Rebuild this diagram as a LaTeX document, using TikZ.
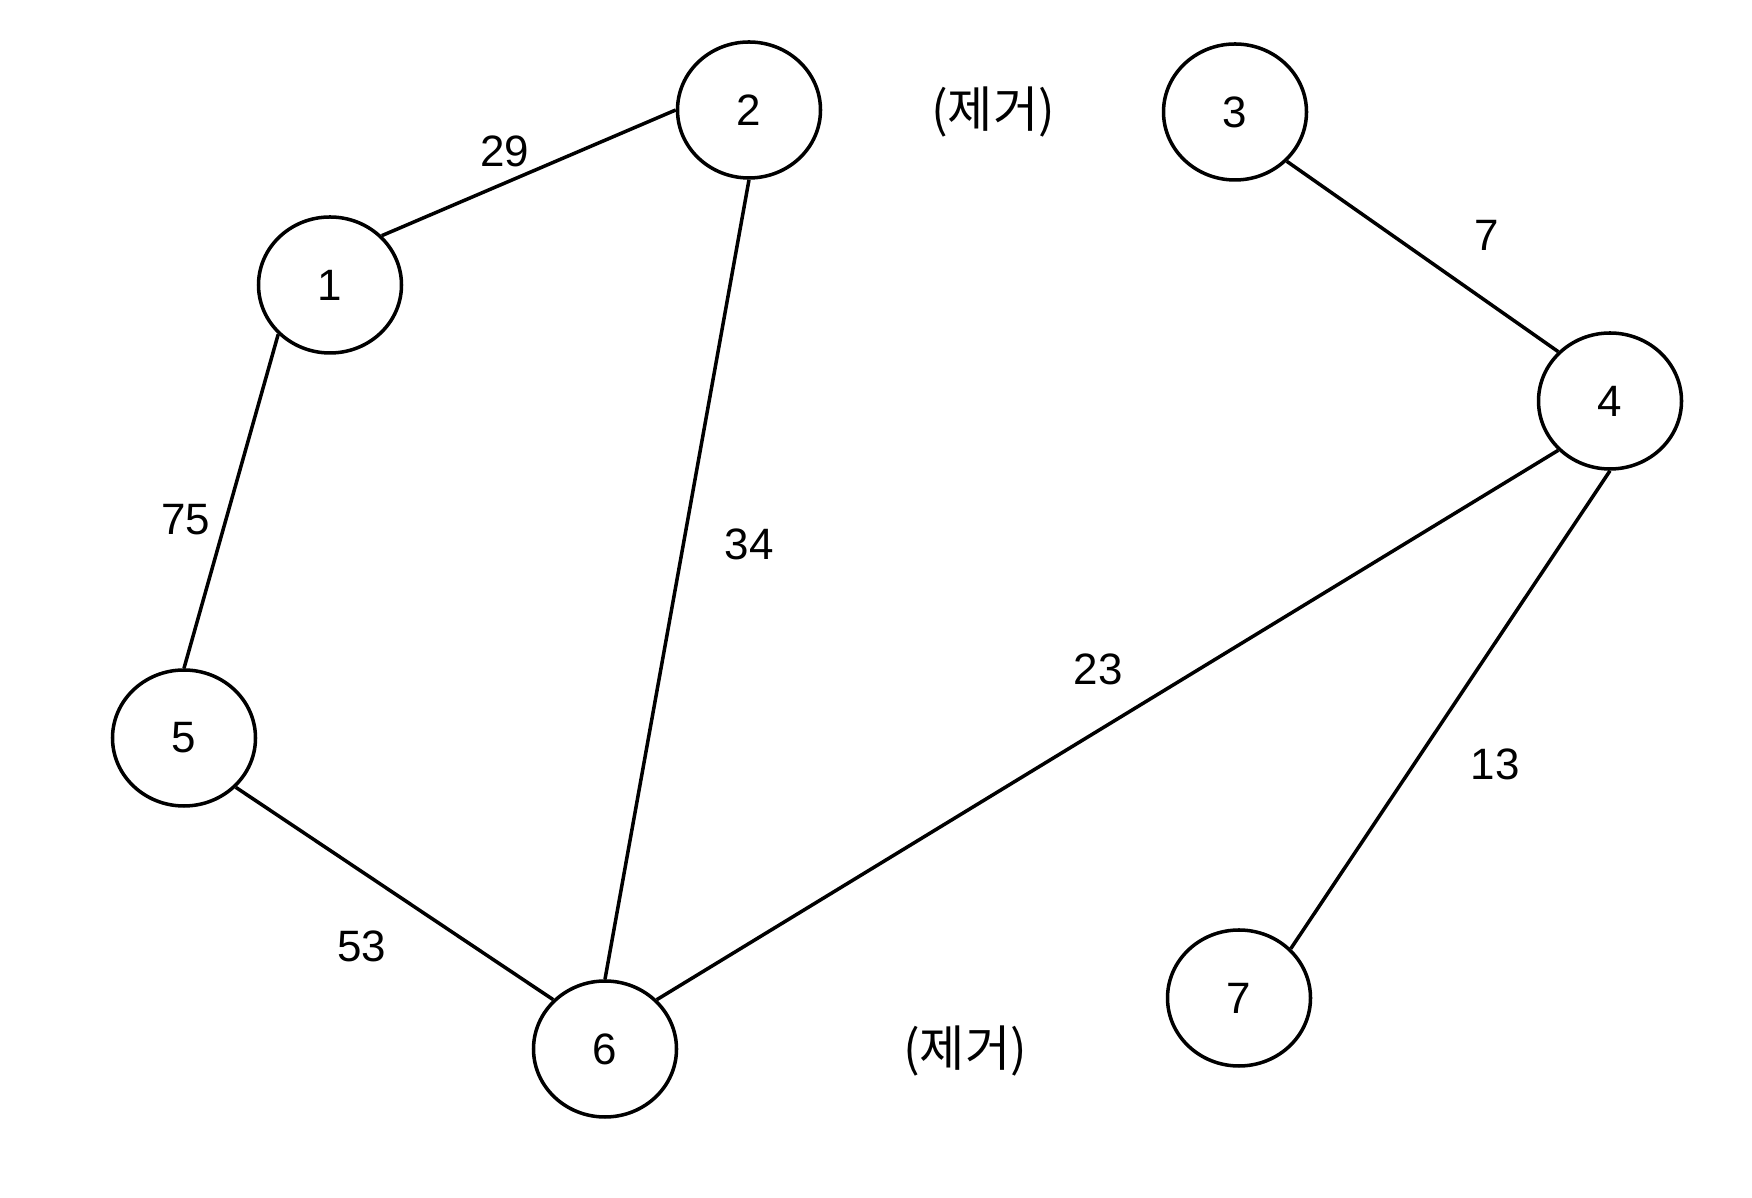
\documentclass[tikz,border=0pt]{standalone}
\usepackage{fontspec}
\setmainfont{Liberation Sans}
\newfontfamily\kr{Noto Sans CJK KR}
\usetikzlibrary{shapes.geometric}

\begin{document}
\begin{tikzpicture}[
    vertex/.style={draw, ellipse, line width=1pt, minimum width=1.43cm, minimum height=1.36cm, inner sep=0pt, font=\fontsize{12.5}{14}\selectfont},
    weight/.style={font=\fontsize{12.5}{14}\selectfont},
    removed/.style={font=\kr\fontsize{14}{16}\selectfont}
]
            \useasboundingbox (0,0) rectangle (17.52,11.98);
            \foreach \n\x\y in {1/3.30/9.13, 2/7.49/10.88, 3/12.35/10.86, 4/16.10/7.97, 5/1.84/4.60, 6/6.05/1.49, 7/12.39/2.00} {
                \node[vertex] (v\n) at (\x,\y) {\n};
            }
            
            \draw[line width=1pt] (v1.north east)--(v2.west) (v1.south west)--(v5.north);
            \draw[line width=1pt] (v2.south)--(v6.north);
            \draw[line width=1pt] (v3.south east)--(v4.north west);
            \draw[line width=1pt] (v4.south west)--(v6.north east) (v4.south)--(v7.north east);
            \draw[line width=1pt] (v5.south east)--(v6.north west);
            
            \foreach \w\x\y in {29/5.05/10.47, 7/14.87/9.63, 75/1.86/6.78, 34/7.49/6.54, 23/10.98/5.29, 13/14.95/4.34, 53/3.62/2.52} {
                \node[weight] (w\w) at (\x,\y) {\w};
            }
            
            \node[removed] (del23) at (9.93,10.86) {(제거)};
            \node[removed] (del67) at (9.65,1.47) {(제거)};
        \end{tikzpicture}
\end{document}
